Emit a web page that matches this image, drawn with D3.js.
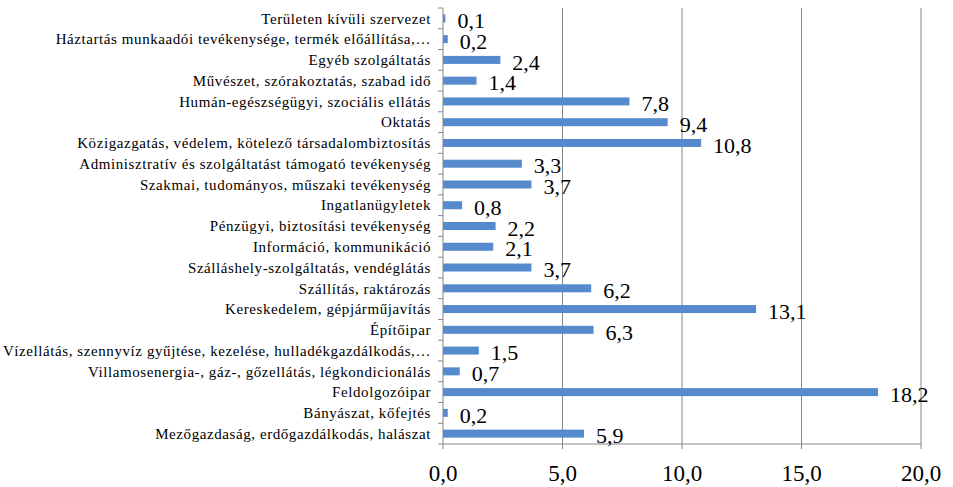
<!DOCTYPE html>
<html>
<head>
<meta charset="utf-8">
<script src="https://d3js.org/d3.v7.min.js"></script>
<style>
  body { margin: 0; background: #fff; }
  svg text { fill: #000; }
</style>
</head>
<body>
<svg width="953" height="487"></svg>
<script>
// ágazatok, fentről lefelé
var categories = [
  "Területen kívüli szervezet",
  "Háztartás munkaadói tevékenysége, termék előállítása,…",
  "Egyéb szolgáltatás",
  "Művészet, szórakoztatás, szabad idő",
  "Humán-egészségügyi, szociális ellátás",
  "Oktatás",
  "Közigazgatás, védelem, kötelező társadalombiztosítás",
  "Adminisztratív és szolgáltatást támogató tevékenység",
  "Szakmai, tudományos, műszaki tevékenység",
  "Ingatlanügyletek",
  "Pénzügyi, biztosítási tevékenység",
  "Információ, kommunikáció",
  "Szálláshely-szolgáltatás, vendéglátás",
  "Szállítás, raktározás",
  "Kereskedelem, gépjárműjavítás",
  "Építőipar",
  "Vízellátás, szennyvíz gyűjtése, kezelése, hulladékgazdálkodás,…",
  "Villamosenergia-, gáz-, gőzellátás, légkondicionálás",
  "Feldolgozóipar",
  "Bányászat, kőfejtés",
  "Mezőgazdaság, erdőgazdálkodás, halászat"
];
var values = [0.1, 0.2, 2.4, 1.4, 7.8, 9.4, 10.8, 3.3, 3.7, 0.8, 2.2, 2.1, 3.7, 6.2, 13.1, 6.3, 1.5, 0.7, 18.2, 0.2, 5.9];
var xTicks = [0, 5, 10, 15, 20];

var data = categories.map(function(c, i) { return { cat: c, val: values[i] }; });

var svg = d3.select("svg");
var pLeft = 443, pRight = 921, pTop = 8, pBottom = 444;
var fmt = function(v) { return d3.format(".1f")(v).replace(".", ","); };
var serif = "'Liberation Serif', 'Times New Roman', Times, Tinos, 'DejaVu Serif', 'Noto Serif', serif";

var x = d3.scaleLinear().domain([0, 20]).range([pLeft, pRight]);
var band = d3.scaleBand().domain(categories).range([pTop, pBottom]);
var mid = function(d) { return band(d.cat) + band.bandwidth() / 2; };

// rácsvonalak
svg.append("g").selectAll("line")
  .data(xTicks.slice(1))
  .enter().append("line")
  .attr("x1", function(d) { return x(d); })
  .attr("x2", function(d) { return x(d); })
  .attr("y1", pTop).attr("y2", pBottom)
  .attr("stroke", "#868686").attr("stroke-width", 1);

// oszlopok
svg.append("g").selectAll("rect")
  .data(data)
  .enter().append("rect")
  .attr("x", x(0))
  .attr("y", function(d) { return mid(d) - 4; })
  .attr("width", function(d) { return x(d.val) - x(0); })
  .attr("height", 8)
  .attr("fill", "#558BCC");

// bal tengely
var yAxis = svg.append("g");
yAxis.append("line")
  .attr("x1", pLeft).attr("x2", pLeft).attr("y1", pTop).attr("y2", pBottom)
  .attr("stroke", "#868686");
yAxis.selectAll(".tk")
  .data(d3.range(categories.length + 1))
  .enter().append("line")
  .attr("x1", pLeft - 5).attr("x2", pLeft)
  .attr("y1", function(i) { return pTop + i * band.step(); })
  .attr("y2", function(i) { return pTop + i * band.step(); })
  .attr("stroke", "#868686");
yAxis.selectAll("text")
  .data(data)
  .enter().append("text")
  .attr("x", 431)
  .attr("y", mid)
  .attr("dy", "0.35em")
  .attr("text-anchor", "end")
  .attr("font-family", serif)
  .attr("font-size", 15)
  .attr("letter-spacing", 0.58)
  .text(function(d) { return d.cat; });

// alsó tengely
var xAxis = svg.append("g");
xAxis.append("line")
  .attr("x1", pLeft).attr("x2", pRight).attr("y1", pBottom).attr("y2", pBottom)
  .attr("stroke", "#868686");
xAxis.selectAll(".tk")
  .data(xTicks)
  .enter().append("line")
  .attr("x1", function(d) { return x(d); })
  .attr("x2", function(d) { return x(d); })
  .attr("y1", pBottom).attr("y2", pBottom + 5)
  .attr("stroke", "#868686");
xAxis.selectAll("text")
  .data(xTicks)
  .enter().append("text")
  .attr("x", function(d) { return x(d); })
  .attr("y", 481)
  .attr("text-anchor", "middle")
  .attr("font-family", serif)
  .attr("font-size", 23)
  .text(fmt);

// értékcímkék
svg.append("g").selectAll("text")
  .data(data)
  .enter().append("text")
  .attr("x", function(d) { return x(d.val) + 12; })
  .attr("y", function(d) { return mid(d) + 2; })
  .attr("dy", "0.35em")
  .attr("font-family", serif)
  .attr("font-size", 22)
  .text(function(d) { return fmt(d.val); });
</script>
</body>
</html>
